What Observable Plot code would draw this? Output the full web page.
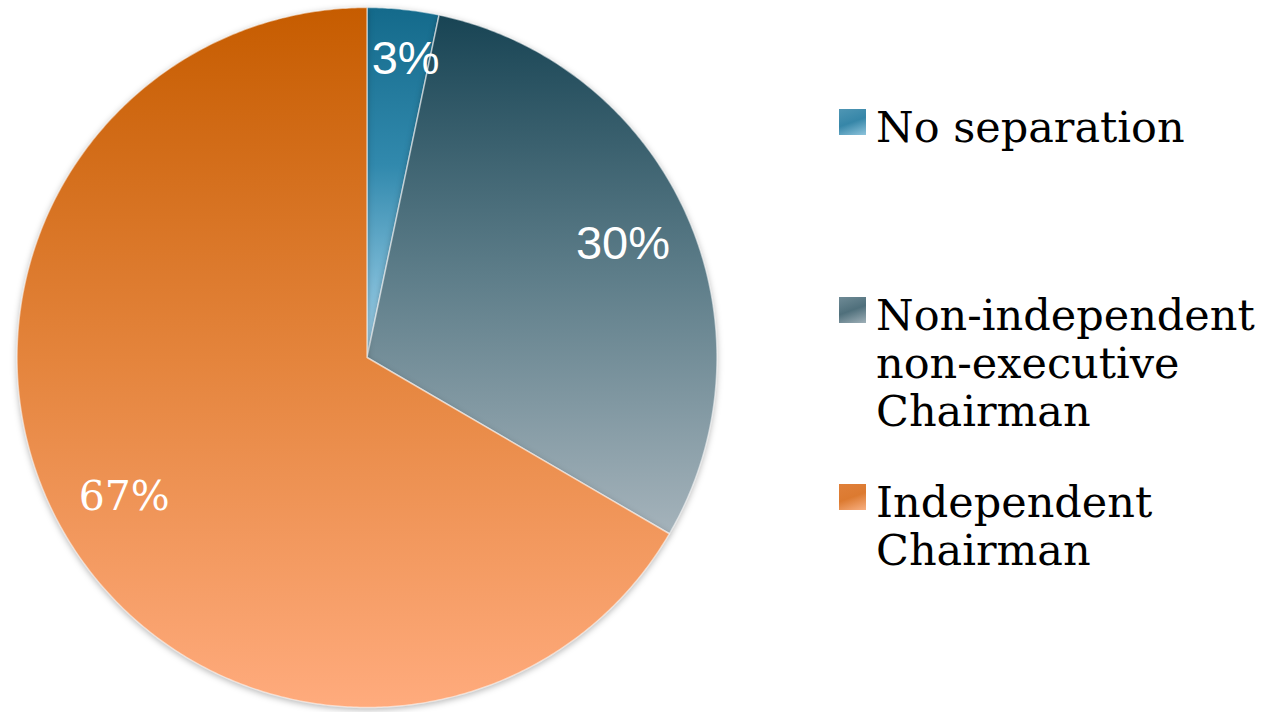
<!DOCTYPE html>
<html>
<head>
<meta charset="utf-8">
<script src="https://cdn.jsdelivr.net/npm/d3@7"></script>
<script src="https://cdn.jsdelivr.net/npm/@observablehq/plot@0.6"></script>
<style>
  html, body { margin: 0; padding: 0; background: #fff; }
  #wrap { position: relative; width: 1273px; height: 712px; overflow: hidden; }
  #chart { position: absolute; left: 0; top: 0; }
  .lg { position: absolute; left: 839px; font-family: "DejaVu Serif", serif; font-size: 43px; line-height: 48px; color: #000; }
  .lg .sw { position: absolute; left: 0; width: 27px; height: 26px; }
  .lg .tx { position: absolute; left: 37px; white-space: nowrap; }
</style>
</head>
<body>
<div id="wrap"><div id="chart"></div></div>
<script>
// ---- data ----
const categories = ["No separation", "Non-independent non-executive Chairman", "Independent Chairman"];
const legendLines = [["No separation"], ["Non-independent", "non-executive", "Chairman"], ["Independent", "Chairman"]];
const shares = [3.3, 30.1, 66.6];
const labels = ["3%", "30%", "67%"];

// ---- styles ----
const gradStops = [
  [[0, "#146a8b"], [0.45, "#3189ad"], [1, "#a9d7ef"]],
  [[0, "#184454"], [0.5, "#5d7d89"], [1, "#a5b3bb"]],
  [[0, "#c65c00"], [0.5, "#e4843c"], [1, "#ffab7d"]]
];
const swatchCss = [
  "linear-gradient(160deg, #4f96b4 0%, #3686a8 50%, #8ec4dc 100%)",
  "linear-gradient(160deg, #6f8b96 0%, #4f6f7b 50%, #9fb0b8 100%)",
  "linear-gradient(160deg, #e0803a 0%, #dc7a30 50%, #f8b083 100%)"
];
const labelFonts = ["'Liberation Sans', Arial, sans-serif", "'Liberation Sans', Arial, sans-serif", "'DejaVu Serif', serif"];
const labelSizes = [47, 47, 41];

// ---- geometry from data ----
const arcs = d3.pie().sort(null).startAngle(0).endAngle(2 * Math.PI)(shares);
const slices = arcs.map((a, i) => {
  const n = Math.max(2, Math.ceil((a.endAngle - a.startAngle) / (Math.PI / 360)));
  const pts = [{x: 0, y: 0}];
  for (let k = 0; k <= n; k++) {
    const t = a.startAngle + (a.endAngle - a.startAngle) * k / n;
    pts.push({x: Math.sin(t), y: Math.cos(t)});
  }
  pts.push({x: 0, y: 0});
  return {id: "grad" + i, points: pts, arc: a};
});
const labelData = arcs.map((a, i) => {
  const m = (a.startAngle + a.endAngle) / 2 + (shares[i] < 5 ? 0.025 : 0);
  const r = shares[i] < 5 ? 0.86 : 0.8;
  return {x: r * Math.sin(m), y: r * Math.cos(m), text: labels[i], i};
});

const plot = Plot.plot({
  width: 1273,
  height: 712,
  marginLeft: 16.5,
  marginRight: 556.5,
  marginTop: 7,
  marginBottom: 5,
  x: {domain: [-1, 1], axis: null},
  y: {domain: [-1, 1], axis: null},
  marks: [
    ...slices.map(s => Plot.line(s.points, {
      x: "x", y: "y", fill: `url(#${s.id})`, stroke: "#ffffff", strokeOpacity: 0.55, strokeWidth: 1.5, curve: "linear"
    })),
    ...labelData.map(d => Plot.text([d], {
      x: "x", y: "y", text: "text", fill: "white",
      fontSize: labelSizes[d.i], fontFamily: labelFonts[d.i], textAnchor: "middle"
    }))
  ]
});

const svg = d3.select(plot);
const defs = svg.insert("defs", ":first-child");
slices.forEach((s, i) => {
  const g = defs.append("linearGradient").attr("id", s.id)
    .attr("x1", 0).attr("y1", 0).attr("x2", 0).attr("y2", 1);
  gradStops[i].forEach(([o, c]) => g.append("stop").attr("offset", o).attr("stop-color", c));
});
svg.selectAll("g[aria-label='line']").style("filter", "drop-shadow(0px 2px 3px rgba(0,0,0,0.28))");
svg.selectAll("g[aria-label='text']").each(function(_, i) {
  d3.select(this).selectAll("text")
    .style("font-family", labelFonts[i])
    .style("font-size", labelSizes[i] + "px");
});
document.getElementById("chart").appendChild(plot);

// ---- legend ----
const legendTops = [103, 291, 478];
const wrap = document.getElementById("wrap");
categories.forEach((c, i) => {
  const div = document.createElement("div");
  div.className = "lg";
  div.style.top = legendTops[i] + "px";
  const sw = document.createElement("div");
  sw.className = "sw";
  sw.style.top = "6px";
  sw.style.background = swatchCss[i];
  div.appendChild(sw);
  legendLines[i].forEach((line, j) => {
    const t = document.createElement("div");
    t.className = "tx";
    t.style.top = (j * 48) + "px";
    t.textContent = line;
    div.appendChild(t);
  });
  wrap.appendChild(div);
});
</script>
</body>
</html>
